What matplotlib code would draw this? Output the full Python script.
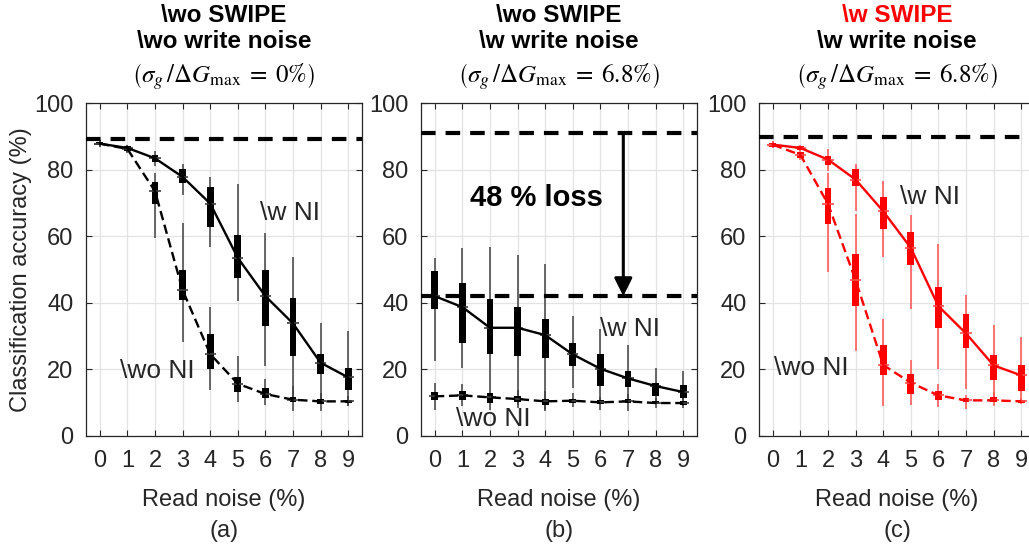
import matplotlib
matplotlib.use('Agg')
import matplotlib.pyplot as plt

plt.rcParams['font.family'] = ['Liberation Sans', 'DejaVu Sans']
plt.rcParams['mathtext.fontset'] = 'stix'

read_noise = [0, 1, 2, 3, 4, 5, 6, 7, 8, 9]
y_ticks = [0, 20, 40, 60, 80, 100]

# (a) without SWIPE, without write noise
a_wni_med = [87.8, 86.5, 83.4, 77.8, 69.8, 53.5, 42.0, 33.8, 22.0, 17.6]
a_wni_q1 = [87.3, 86.0, 82.4, 76.0, 62.9, 47.3, 33.1, 24.0, 18.5, 13.9]
a_wni_q3 = [88.2, 87.0, 84.4, 80.1, 74.7, 60.4, 49.8, 41.5, 24.5, 20.5]
a_wni_lo = [86.8, 85.3, 81.0, 72.5, 56.9, 40.4, 21.0, 10.9, 9.9, 8.9]
a_wni_hi = [88.8, 87.5, 85.7, 81.8, 77.8, 75.6, 60.9, 53.8, 33.9, 31.6]

a_wo_med = [87.8, 86.2, 73.5, 43.8, 24.6, 15.7, 12.6, 10.9, 10.4, 10.4]
a_wo_q1 = [87.3, 85.6, 69.7, 40.7, 20.0, 13.1, 11.4, 10.1, 9.7, 9.9]
a_wo_q3 = [88.2, 86.8, 76.4, 49.8, 30.6, 17.8, 14.4, 11.7, 11.1, 10.9]
a_wo_lo = [86.8, 85.0, 59.4, 28.1, 13.9, 10.1, 9.4, 7.4, 7.4, 8.9]
a_wo_hi = [88.8, 87.3, 79.0, 63.9, 38.7, 24.0, 17.0, 15.0, 12.9, 11.9]

# (b) without SWIPE, with write noise
b_wni_med = [42.0, 38.7, 32.5, 32.5, 30.3, 24.5, 20.2, 17.3, 15.0, 13.2]
b_wni_q1 = [38.2, 27.9, 24.7, 24.0, 23.5, 21.0, 15.0, 14.7, 12.1, 11.4]
b_wni_q3 = [49.5, 46.0, 41.0, 38.7, 35.2, 27.9, 24.5, 19.5, 15.8, 15.2]
b_wni_lo = [22.5, 20.5, 15.0, 9.4, 7.9, 14.4, 10.4, 10.9, 9.9, 8.9]
b_wni_hi = [53.5, 56.6, 56.9, 54.3, 51.8, 36.0, 32.1, 27.3, 20.5, 19.5]

b_wo_med = [11.9, 12.2, 11.6, 11.1, 10.4, 10.6, 10.1, 10.4, 9.9, 9.9]
b_wo_q1 = [10.9, 10.9, 9.9, 10.1, 9.4, 9.9, 9.6, 9.9, 9.6, 9.4]
b_wo_q3 = [13.1, 13.6, 12.9, 11.9, 11.1, 11.1, 10.7, 11.1, 10.4, 10.4]
b_wo_lo = [7.9, 8.9, 7.9, 8.4, 7.4, 8.6, 7.9, 7.4, 8.4, 8.4]
b_wo_hi = [16.0, 15.5, 14.9, 13.9, 13.4, 12.9, 11.6, 12.6, 11.4, 11.4]

# (c) with SWIPE, with write noise
c_wni_med = [87.5, 86.5, 83.0, 77.0, 67.5, 56.5, 39.0, 30.8, 21.2, 18.2]
c_wni_q1 = [86.9, 85.9, 81.4, 75.1, 62.2, 51.3, 32.4, 26.3, 16.8, 13.4]
c_wni_q3 = [88.1, 87.0, 84.1, 80.1, 71.7, 61.4, 44.7, 36.5, 24.2, 21.2]
c_wni_lo = [86.5, 85.5, 79.6, 67.5, 53.8, 38.2, 20.0, 14.1, 10.9, 9.9]
c_wni_hi = [88.5, 87.4, 86.2, 81.6, 76.6, 66.3, 57.6, 42.2, 33.3, 29.6]

c_wo_med = [87.5, 84.4, 69.7, 46.8, 21.3, 16.0, 12.2, 10.7, 10.7, 10.4]
c_wo_q1 = [86.9, 83.6, 63.6, 38.9, 18.2, 12.7, 10.9, 10.1, 10.1, 9.9]
c_wo_q3 = [88.1, 85.2, 74.5, 54.8, 27.4, 18.5, 13.4, 11.4, 11.6, 10.9]
c_wo_lo = [86.5, 83.0, 49.1, 25.6, 9.1, 9.4, 8.7, 8.1, 9.1, 9.6]
c_wo_hi = [88.5, 85.7, 79.0, 66.7, 35.2, 22.8, 15.5, 12.2, 13.1, 11.4]

# ideal (software) accuracy and the noisy baseline
a_ref = 89.3
b_ref = 91.0
b_floor = 42.0
c_ref = 89.7

TEXT = '#262626'
W, H = 1029, 554


def draw_boxes(ax, med, q1, q3, lo, hi, color, wcolor, linestyle):
    ax.vlines(read_noise, lo, hi, color=wcolor, lw=1.1, zorder=3)
    heights = [t - b for b, t in zip(q1, q3)]
    ax.bar(read_noise, heights, bottom=q1, width=0.25, color=color, zorder=4)
    ax.hlines(med, [x - 0.2 for x in read_noise], [x + 0.2 for x in read_noise],
              color=wcolor, lw=1.2, zorder=5)
    ax.plot(read_noise, med, color=color, lw=1.7, linestyle=linestyle, zorder=6)


def setup_axes(left):
    ax = fig.add_axes([left / W, (H - 436) / H, 276 / W, 333 / H])
    ax.set_xlim(-0.5, 9.5)
    ax.set_ylim(0, 100)
    ax.set_xticks(read_noise)
    ax.set_yticks(y_ticks)
    ax.grid(True, color='#e3e3e3', lw=0.9, zorder=0)
    ax.set_axisbelow(True)
    ax.tick_params(direction='in', length=4, width=0.8, top=True, right=True,
                   labelsize=17, colors=TEXT)
    ax.tick_params(axis='y', pad=9)
    ax.tick_params(axis='x', pad=10)
    for s in ax.spines.values():
        s.set_color(TEXT)
        s.set_linewidth(0.9)
    cx = (left + 138) / W
    fig.text(cx, 1 - 500 / H, 'Read noise (%)', ha='center', va='center', fontsize=17, color=TEXT)
    return ax, cx


def titles(cx, first, second, ratio, first_color='black'):
    fig.text(cx, 1 - 15 / H, first, ha='center', va='center', fontsize=17.5,
             fontweight='bold', color=first_color)
    fig.text(cx, 1 - 41 / H, second, ha='center', va='center', fontsize=17.5,
             fontweight='bold', color='black')
    fig.text(cx, 1 - 77 / H,
             r'$\left(\sigma_g\,/\Delta G_{\max}\;=\;' + ratio + r'\%\right)$',
             ha='center', va='center', fontsize=18, color='black')


fig = plt.figure(figsize=(W / 100, H / 100), dpi=100)
ref_dash = (3.5, 2.4)

# panel (a)
ax, cx = setup_axes(86)
ax.axhline(a_ref, color='black', lw=3, dashes=ref_dash, zorder=7)
draw_boxes(ax, a_wo_med, a_wo_q1, a_wo_q3, a_wo_lo, a_wo_hi, 'black', '#404040', (0, (4, 2)))
draw_boxes(ax, a_wni_med, a_wni_q1, a_wni_q3, a_wni_lo, a_wni_hi, 'black', '#404040', '-')
ax.text(5.8, 67, r'\w NI', fontsize=19, va='center', color=TEXT)
ax.text(0.72, 19.5, r'\wo NI', fontsize=19, va='center', color=TEXT)
titles(cx, r'\wo SWIPE', r'\wo write noise', '0')
fig.text(cx, 1 - 531 / H, '(a)', ha='center', va='center', fontsize=17, color=TEXT)
fig.text(21 / W, 1 - 270 / H, 'Classification accuracy (%)', rotation=90,
         ha='center', va='center', fontsize=17, color=TEXT)

# panel (b)
ax, cx = setup_axes(421)
ax.axhline(b_ref, color='black', lw=3, dashes=ref_dash, zorder=7)
ax.axhline(b_floor, color='black', lw=3, dashes=ref_dash, zorder=7)
draw_boxes(ax, b_wo_med, b_wo_q1, b_wo_q3, b_wo_lo, b_wo_hi, 'black', '#404040', (0, (4, 2)))
draw_boxes(ax, b_wni_med, b_wni_q1, b_wni_q3, b_wni_lo, b_wni_hi, 'black', '#404040', '-')
ax.annotate('', xy=(6.83, b_floor), xytext=(6.83, b_ref),
            arrowprops=dict(arrowstyle='-|>', lw=2.2, color='black', mutation_scale=27,
                            shrinkA=0, shrinkB=0), zorder=8)
ax.text(3.7, 71.4, '48 % loss', fontsize=21, fontweight='bold', ha='center', va='center')
ax.text(6.0, 32, r'\w NI', fontsize=19, va='center', color=TEXT)
ax.text(0.78, 5.1, r'\wo NI', fontsize=19, va='center', color=TEXT)
titles(cx, r'\wo SWIPE', r'\w write noise', '6.8')
fig.text(cx, 1 - 531 / H, '(b)', ha='center', va='center', fontsize=17, color=TEXT)

# panel (c)
ax, cx = setup_axes(759)
ax.axhline(c_ref, color='black', lw=3, dashes=ref_dash, zorder=7)
draw_boxes(ax, c_wo_med, c_wo_q1, c_wo_q3, c_wo_lo, c_wo_hi, 'red', '#ff5050', (0, (4, 2)))
draw_boxes(ax, c_wni_med, c_wni_q1, c_wni_q3, c_wni_lo, c_wni_hi, 'red', '#ff5050', '-')
ax.text(4.6, 71.7, r'\w NI', fontsize=19, va='center', color=TEXT)
ax.text(0.04, 20.5, r'\wo NI', fontsize=19, va='center', color=TEXT)
titles(cx, r'\w SWIPE', r'\w write noise', '6.8', first_color='red')
fig.text(cx, 1 - 531 / H, '(c)', ha='center', va='center', fontsize=17, color=TEXT)

fig.savefig('out.png', dpi=100)
